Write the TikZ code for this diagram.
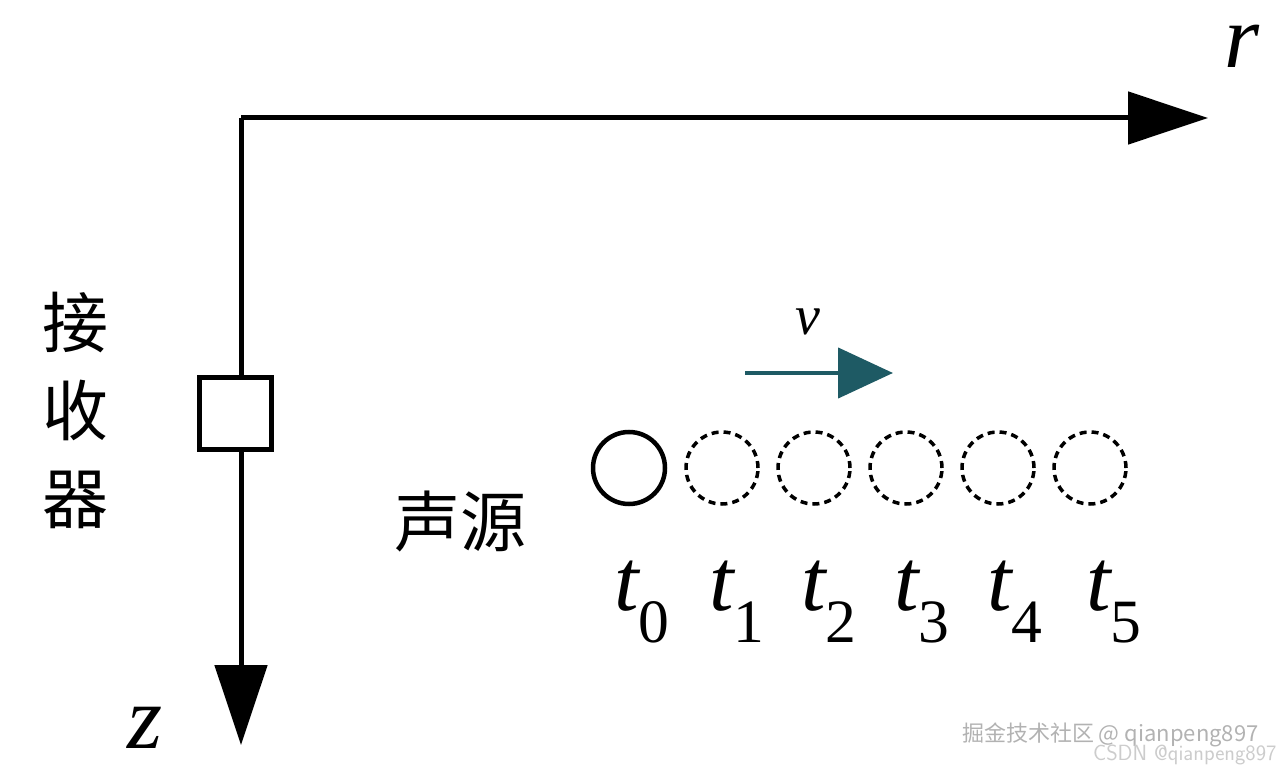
\documentclass[tikz,border=0pt]{standalone}
\usepackage{fontspec}
\setmainfont{Liberation Serif}
\newfontfamily\cjk{Noto Sans CJK SC}
\usetikzlibrary{arrows.meta}
\definecolor{teal1}{RGB}{30,90,100}
\tikzset{
  ax/.style={line width=5pt,-{Triangle[length=80pt,width=52pt]}},
  src/.style={circle,minimum size=72pt,inner sep=0pt,line width=4.5pt,draw},
  ghost/.style={src,line width=3.5pt,dash pattern=on 7pt off 5pt},
  tl/.style={font=\fontsize{88}{90}\selectfont\itshape},
  cn/.style={font=\fontsize{66}{70}\selectfont\cjk}
}
\begin{document}
\begin{tikzpicture}[x=1pt,y=-1pt]
\useasboundingbox (0,0) rectangle (1283,775);
\coordinate (o) at (241,118);
\coordinate (re) at (1208,118);
\coordinate (ze) at (241,745);
\draw[ax] (o) -- (re);
\draw[ax] (o) -- (ze);
\node[draw,fill=white,line width=5pt,minimum size=72pt,inner sep=0pt] (rx) at (235,414) {};
\node[font=\fontsize{90}{90}\selectfont\itshape] (r) at (1242,46) {r};
\node[font=\fontsize{90}{90}\selectfont\itshape] (z) at (145,728) {z};
\node[cn,align=center] (lab) at (75,410) {接\\[18pt]收\\[18pt]器};
\node[cn] (sy) at (460,522) {声源};
\coordinate (va) at (745,373);
\coordinate (vb) at (893,373);
\draw[teal1,line width=4.5pt,-{Triangle[length=55pt,width=50pt]}] (va) -- (vb);
\node[font=\fontsize{56}{56}\selectfont\itshape] (v) at (808,322) {v};
\node[src] (c0) at (629,468) {};
\foreach \i/\x in {1/722,2/814,3/906,4/998,5/1090}
  \node[ghost] (c\i) at (\x,468) {};
\foreach \i/\x in {0/642,1/737,2/829,3/922,4/1015,5/1114}
  \node[tl] (t\i) at (\x,602) {t\textsubscript{\upshape\i}};
\node[gray!60,font=\fontsize{22}{22}\selectfont\cjk,anchor=east] (wm1) at (1262,735) {掘金技术社区 @ qianpeng897};
\node[gray!40,font=\fontsize{22}{22}\selectfont\sffamily,anchor=east] (wm2) at (1280,755) {CSDN @qianpeng897};
\end{tikzpicture}
\end{document}
